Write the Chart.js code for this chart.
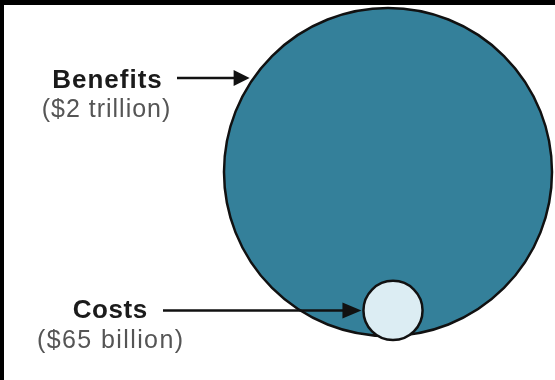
<!DOCTYPE html>
<html>
<head>
<meta charset="utf-8">
<script src="https://cdn.jsdelivr.net/npm/chart.js"></script>
<style>
  html, body { margin: 0; background: #fff; }
  #wrap { width: 555px; height: 380px; position: relative; }
</style>
</head>
<body>
<div id="wrap"><canvas id="myChart"></canvas></div>
<script>
// data, in billions of dollars
var categories = ["Benefits", "Costs"];
var amountLabels = ["($2 trillion)", "($65 billion)"];
var amounts = [2000, 65];
var fillColors = ["#34809a", "#dcedf3"];

// layout of the picture
var bigCenter = { x: 388, y: 172 };
var maxRadius = 164;
var maxAmount = Math.max.apply(null, amounts);

function radiusFor(v) {
  // bubble area in proportion to the amount
  return maxRadius * Math.sqrt(v / maxAmount);
}

var bubbles = [];
for (var i = 0; i < amounts.length; i++) {
  var r = radiusFor(amounts[i]);
  if (i == 0) {
    bubbles.push({ x: bigCenter.x, y: bigCenter.y, r: r });
  } else {
    // small circle sits inside the big one, at its bottom
    bubbles.push({ x: bigCenter.x + 5, y: bigCenter.y + maxRadius - r + 4, r: r });
  }
}

function arrow(ctx, x1, y, x2, headLen, headHalf) {
  ctx.beginPath();
  ctx.moveTo(x1, y);
  ctx.lineTo(x2 - headLen + 2, y);
  ctx.stroke();
  ctx.beginPath();
  ctx.moveTo(x2, y);
  ctx.lineTo(x2 - headLen, y - headHalf);
  ctx.lineTo(x2 - headLen, y + headHalf);
  ctx.closePath();
  ctx.fill();
}

function spacedText(ctx, txt, x, y, spacing) {
  ctx.letterSpacing = spacing + "px";
  // letterSpacing also pads the end, so shift back by half of it
  ctx.fillText(txt, x + spacing / 2, y);
  ctx.letterSpacing = "0px";
}

var labelsPlugin = {
  id: "labels",
  afterDraw: function(chart) {
    var ctx = chart.ctx;
    var pts = chart.getDatasetMeta(0).data;
    ctx.save();

    // frame bits at top and left
    ctx.fillStyle = "#000";
    ctx.fillRect(0, 0, 555, 5);
    ctx.fillRect(0, 0, 4, 380);

    ctx.textAlign = "center";
    ctx.textBaseline = "alphabetic";
    ctx.fillStyle = "#1b1b1b";
    ctx.font = "bold 26px 'Liberation Sans', Arial, sans-serif";
    spacedText(ctx, categories[0], 107, 88, 1);
    spacedText(ctx, categories[1], 110, 318, 0.6);

    ctx.fillStyle = "#555";
    ctx.font = "25px 'Liberation Sans', Arial, sans-serif";
    spacedText(ctx, amountLabels[0], 106, 117, 1);
    spacedText(ctx, amountLabels[1], 110, 348, 1.4);

    // arrows
    ctx.strokeStyle = "#111";
    ctx.fillStyle = "#111";
    ctx.lineWidth = 2.5;
    var big = pts[0], small = pts[1];
    var ay = 78;
    var bigR = bubbles[0].r;
    var tip1 = big.x - Math.sqrt(bigR * bigR - (ay - big.y) * (ay - big.y)) - 4;
    arrow(ctx, 177, ay, tip1, 16, 8);

    var tip2 = small.x - bubbles[1].r - 2;
    arrow(ctx, 163, small.y, tip2, 19, 8);

    ctx.restore();
  }
};

new Chart("myChart", {
  type: "bubble",
  data: {
    labels: categories,
    datasets: [{
      data: bubbles,
      backgroundColor: fillColors,
      borderColor: "#111",
      borderWidth: 2.5,
      hoverRadius: 0,
      clip: false
    }]
  },
  options: {
    responsive: true,
    maintainAspectRatio: false,
    animation: false,
    events: [],
    layout: { padding: 0, autoPadding: false },
    plugins: {
      legend: { display: false },
      tooltip: { enabled: false }
    },
    scales: {
      x: { display: false, min: 0, max: 555 },
      y: { display: false, min: 0, max: 380, reverse: true }
    }
  },
  plugins: [labelsPlugin]
});
</script>
</body>
</html>
